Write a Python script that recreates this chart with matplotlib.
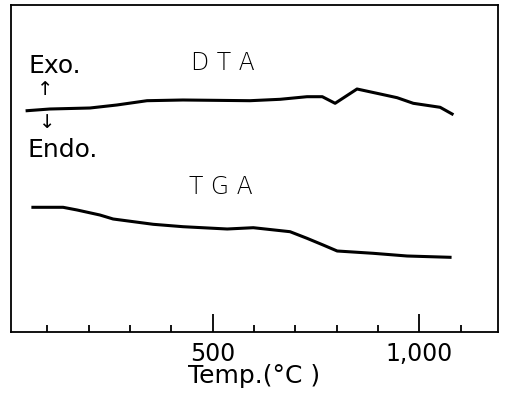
import numpy as np
import matplotlib
matplotlib.use("Agg")
import matplotlib.pyplot as plt
from matplotlib.ticker import FixedLocator

# DTA trace (temperature in degC, signal in arbitrary units)
dta_temp = [51, 106, 203, 268, 341, 428, 590, 663, 728, 765, 796, 849, 905, 946, 985, 1050, 1079]
dta_sig = [221.3, 223, 224, 227, 231.3, 232, 231.3, 232.7, 235.3, 235.3, 228.7, 243, 238, 234.3, 228.7, 224.7, 218]

# TGA trace (arbitrary weight units)
tga_temp = [65, 138, 172, 227, 259, 356, 428, 535, 598, 687, 728, 767, 801, 888, 970, 1074]
tga_wt = [124.7, 124.7, 122, 117, 113, 107.7, 105.3, 103, 104.3, 100.3, 93.7, 87, 81, 78.7, 76, 74.7]

major_ticks = [500, 1000]
major_labels = ["500", "1,000"]
minor_ticks = [100, 200, 300, 400, 600, 700, 800, 900, 1100]

fig = plt.figure(figsize=(5.07, 3.93), dpi=100)
ax = fig.add_axes([11/507, 61/393, 487/507, 327/393])

ax.plot(dta_temp, dta_sig, color="black", lw=2.2, solid_joinstyle="round")
ax.plot(tga_temp, tga_wt, color="black", lw=2.2, solid_joinstyle="round")

ax.set_xlim(12, 1190)
ax.set_ylim(0, 327)

ax.xaxis.set_major_locator(FixedLocator(major_ticks))
ax.set_xticklabels(major_labels, fontsize=17)
ax.xaxis.set_minor_locator(FixedLocator(minor_ticks))
ax.tick_params(axis="x", which="major", direction="in", length=13, width=1.3, pad=7)
ax.tick_params(axis="x", which="minor", direction="in", length=5, width=1.3)
ax.set_yticks([])
for s in ax.spines.values():
    s.set_linewidth(1.3)

ax.set_xlabel("Temp.(°C )", fontsize=18, labelpad=-1)

ax.text(0.435, 0.823, "D T A", transform=ax.transAxes, fontsize=17,
        ha="center", va="center", fontweight="light")
ax.text(0.431, 0.443, "T G A", transform=ax.transAxes, fontsize=17,
        ha="center", va="center", fontweight="light")
ax.text(0.035, 0.813, "Exo.", transform=ax.transAxes, fontsize=18,
        ha="left", va="center")
ax.text(0.070, 0.742, "↑", transform=ax.transAxes, fontsize=14,
        ha="center", va="center")
ax.text(0.074, 0.640, "↓", transform=ax.transAxes, fontsize=14,
        ha="center", va="center")
ax.text(0.033, 0.557, "Endo.", transform=ax.transAxes, fontsize=18,
        ha="left", va="center")

fig.savefig("out.png", dpi=100)
